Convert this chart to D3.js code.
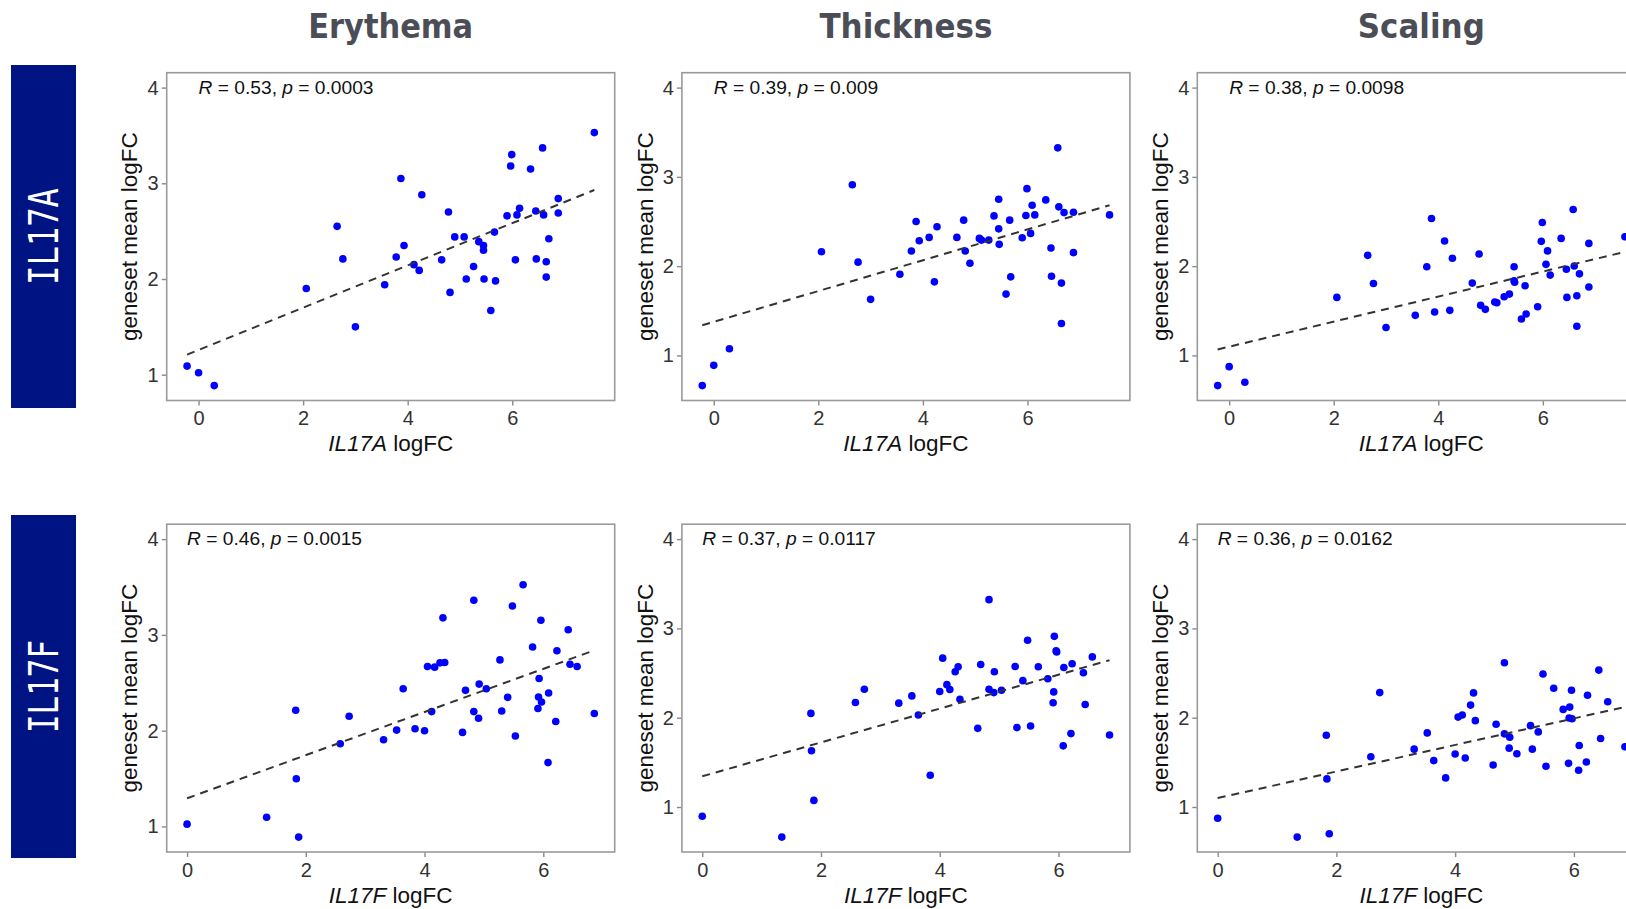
<!DOCTYPE html>
<html><head><meta charset="utf-8">
<script src="https://cdn.jsdelivr.net/npm/d3@7"></script>
<style>body{margin:0;background:#fff;} svg{display:block;}</style>
</head><body>
<svg id="chart" width="1626" height="909"></svg>
<script>
// ---------- data ----------
const columns = ["Erythema", "Thickness", "Scaling"];
const rowGenes = ["IL17A", "IL17F"];
const xTicks = [0, 2, 4, 6];
const yTicks = [1, 2, 3, 4];

const xIL17A = [-0.22, 0.00, 0.30, 2.06, 2.65, 2.76, 3.00, 3.56, 3.78, 3.87, 3.93, 4.12, 4.22, 4.27, 4.65,
  4.78, 4.81, 4.90, 5.08, 5.12, 5.26, 5.36, 5.45, 5.45, 5.46, 5.59, 5.66, 5.68, 5.90, 5.97,
  5.99, 6.06, 6.09, 6.14, 6.35, 6.45, 6.46, 6.58, 6.60, 6.65, 6.65, 6.70, 6.88, 6.88, 7.57];
const xIL17F = [0.00, 1.34, 1.83, 1.84, 1.88, 2.58, 2.73, 3.31, 3.53, 3.64, 3.84, 4.00, 4.05, 4.12, 4.17,
  4.26, 4.31, 4.34, 4.64, 4.69, 4.83, 4.83, 4.91, 4.92, 5.04, 5.27, 5.30, 5.40, 5.48, 5.53,
  5.66, 5.82, 5.91, 5.92, 5.93, 5.96, 5.97, 6.08, 6.09, 6.21, 6.23, 6.42, 6.45, 6.57, 6.86];

const yErythemaA = [1.09, 1.02, 0.886, 1.90, 2.55, 2.21, 1.50, 1.94, 2.23, 3.05, 2.35, 2.15, 2.09, 2.88, 2.20,
  2.70, 1.86, 2.44, 2.44, 2.00, 2.13, 2.39, 2.35, 2.30, 2.00, 1.67, 2.49, 1.98, 2.66, 3.18,
  3.30, 2.20, 2.67, 2.74, 3.15, 2.71, 2.21, 3.37, 2.67, 2.18, 2.02, 2.42, 2.84, 2.69, 3.53];
const yThicknessA = [0.662, 0.889, 1.074, 2.162, 2.912, 2.045, 1.628, 1.910, 2.170, 2.500, 2.285, 2.322, 1.824, 2.441, 2.322,
  2.515, 2.170, 2.032, 2.311, 2.292, 2.292, 2.563, 2.749, 2.418, 2.244, 1.687, 2.515, 1.880, 2.318, 2.567,
  2.868, 2.367, 2.682, 2.574, 2.742, 2.203, 1.887, 3.325, 2.664, 1.810, 1.357, 2.600, 2.604, 2.151, 2.574];
const yScalingA = [0.662, 0.874, 0.699, 1.650, 2.121, 1.806, 1.312, 1.449, 1.993, 2.533, 1.486, 2.281, 1.505, 2.089, 1.810,
  2.136, 1.561, 1.516, 1.598, 1.590, 1.657, 1.687, 1.993, 1.837, 1.820, 1.408, 1.780, 1.464, 1.546, 2.278,
  2.489, 2.020, 2.171, 1.900, 2.311, 1.966, 1.650, 2.634, 2.002, 1.669, 1.327, 1.914, 2.255, 1.766, 2.329];
const yErythemaF = [1.024, 1.097, 2.213, 1.498, 0.889, 1.864, 2.151, 1.906, 2.006, 2.438, 2.020, 1.999, 2.670, 2.199, 2.663,
  2.708, 3.178, 2.711, 1.982, 2.421, 2.199, 3.361, 2.130, 2.486, 2.438, 2.739, 2.206, 2.348, 3.302, 1.944,
  3.523, 2.873, 2.231, 2.352, 2.545, 3.153, 2.300, 1.667, 2.393, 2.096, 2.835, 3.053, 2.694, 2.670, 2.179];
const yThicknessF = [0.896, 0.663, 2.048, 1.630, 1.074, 2.170, 2.319, 2.163, 2.244, 2.030, 1.356, 2.293, 2.667, 2.370, 2.315,
  2.515, 2.570, 2.207, 1.881, 2.596, 2.319, 3.322, 2.281, 2.515, 2.307, 2.574, 1.889, 2.415, 2.867, 1.907,
  2.570, 2.437, 2.167, 2.289, 2.911, 2.748, 2.737, 1.685, 2.563, 1.822, 2.604, 2.504, 2.148, 2.681, 1.807];
const yScalingF = [0.874, 0.663, 1.804, 1.315, 0.700, 1.563, 2.281, 1.648, 1.830, 1.519, 1.326, 1.593, 2.007, 2.030, 1.548,
  2.141, 2.278, 1.967, 1.470, 1.926, 2.615, 1.819, 1.659, 1.781, 1.596, 1.911, 1.648, 1.841, 2.489, 1.456,
  2.330, 2.093, 1.489, 1.996, 2.119, 2.307, 1.989, 1.411, 1.689, 1.504, 2.252, 2.533, 1.767, 2.178, 1.674];

// fitted (dashed) line: y at min x and at max x
const fitErythemaA = [1.21, 2.93];
const fitThicknessA = [1.338, 2.682];
const fitScalingA = [1.067, 2.16];
const fitErythemaF = [1.294, 2.839];
const fitThicknessF = [1.344, 2.644];
const fitScalingF = [1.10, 2.12];

const corR = [["0.53", "0.39", "0.38"], ["0.46", "0.37", "0.36"]];
const corP = [["0.0003", "0.009", "0.0098"], ["0.0015", "0.0117", "0.0162"]];

// ---------- layout ----------
const panelLeft = [166.7, 681.9, 1197.3];
const panelTop = [72.7, 524.2];
const PW = 448, PH = 327.8;
const sansFont = "'Liberation Sans', Arial, Helvetica, sans-serif";

const xByRow = [xIL17A, xIL17F];
const yByPanel = [[yErythemaA, yThicknessA, yScalingA], [yErythemaF, yThicknessF, yScalingF]];
const fitByPanel = [[fitErythemaA, fitThicknessA, fitScalingA], [fitErythemaF, fitThicknessF, fitScalingF]];

const svg = d3.select("#chart");

// column titles
const titleW = [165, 173, 127];
columns.forEach((c, j) => {
  svg.append("text")
    .attr("x", panelLeft[j] + PW / 2).attr("y", 37.5)
    .attr("text-anchor", "middle")
    .attr("font-family", "'DejaVu Sans', sans-serif")
    .attr("font-weight", "bold").attr("font-size", 34)
    .attr("textLength", titleW[j]).attr("lengthAdjust", "spacingAndGlyphs")
    .attr("fill", "#4b4e56").text(c);
});

// row labels
const boxTop = [65, 515], boxBot = [408, 858];
rowGenes.forEach((g, i) => {
  svg.append("rect").attr("x", 11).attr("y", boxTop[i])
    .attr("width", 65).attr("height", boxBot[i] - boxTop[i]).attr("fill", "#001382");
  const cy = (boxTop[i] + boxBot[i]) / 2;
  svg.append("text")
    .attr("transform", `translate(${43.5 + 14.5},${cy}) rotate(-90)`)
    .attr("text-anchor", "middle")
    .attr("font-family", "'DejaVu Sans Mono', monospace").attr("font-size", 40)
    .attr("textLength", g === "IL17A" ? 97 : 93).attr("lengthAdjust", "spacingAndGlyphs")
    .attr("fill", "#fff").text(g);
});

// panels
rowGenes.forEach((gene, i) => {
  const xs = xByRow[i];
  const xmin = d3.min(xs), xmax = d3.max(xs), xr = xmax - xmin;
  columns.forEach((col, j) => {
    const ys = yByPanel[i][j];
    const fit = fitByPanel[i][j];
    const ymin = Math.min(d3.min(ys), d3.min(fit));
    const ymax = 4; // label position sits at y = 4
    const yr = ymax - ymin;
    const x = d3.scaleLinear().domain([xmin - 0.05 * xr, xmax + 0.05 * xr]).range([0, PW]);
    const y = d3.scaleLinear().domain([ymin - 0.05 * yr, ymax + 0.05 * yr]).range([PH, 0]);

    const g = svg.append("g").attr("transform", `translate(${panelLeft[j]},${panelTop[i]})`);

    // axes
    const ax = g.append("g").attr("transform", `translate(0,${PH})`)
      .call(d3.axisBottom(x).tickValues(xTicks).tickSize(5).tickPadding(5.5).tickFormat(d3.format("d")));
    const ay = g.append("g")
      .call(d3.axisLeft(y).tickValues(yTicks).tickSize(5).tickPadding(3).tickFormat(d3.format("d")));
    [ax, ay].forEach(a => {
      a.select(".domain").remove();
      a.selectAll(".tick line").attr("stroke", "#8a8a8a").attr("stroke-width", 1.4);
      a.selectAll(".tick text").attr("font-family", sansFont).attr("font-size", 20).attr("fill", "#333");
    });

    // points
    g.append("g").selectAll("circle").data(xs.map((v, k) => [v, ys[k]])).join("circle")
      .attr("cx", d => x(d[0])).attr("cy", d => y(d[1])).attr("r", 3.8).attr("fill", "#0000ff");

    // fitted dashed line
    g.append("path")
      .datum([[xmin, fit[0]], [xmax, fit[1]]])
      .attr("d", d3.line().x(d => x(d[0])).y(d => y(d[1])))
      .attr("fill", "none").attr("stroke", "#333").attr("stroke-width", 2)
      .attr("stroke-dasharray", "8,6");

    // border
    g.append("rect").attr("width", PW).attr("height", PH)
      .attr("fill", "none").attr("stroke", "#9a9a9a").attr("stroke-width", 1.6);

    // correlation label
    const t = g.append("text").attr("x", x(0)).attr("y", y(4) + 6)
      .attr("font-family", sansFont).attr("font-size", 19.2).attr("fill", "#111");
    t.append("tspan").attr("font-style", "italic").text("R");
    t.append("tspan").text(` = ${corR[i][j]}, `);
    t.append("tspan").attr("font-style", "italic").text("p");
    t.append("tspan").text(` = ${corP[i][j]}`);

    // axis titles
    const xt = g.append("text").attr("x", PW / 2).attr("y", PH + 51)
      .attr("text-anchor", "middle").attr("font-family", sansFont).attr("font-size", 22.5).attr("fill", "#111");
    xt.append("tspan").attr("font-style", "italic").text(gene);
    xt.append("tspan").text(" logFC");

    g.append("text").attr("transform", `translate(${-29.4},${PH / 2}) rotate(-90)`)
      .attr("text-anchor", "middle").attr("font-family", sansFont).attr("font-size", 22.5)
      .attr("fill", "#111").text("geneset mean logFC");
  });
});
</script>
</body></html>
